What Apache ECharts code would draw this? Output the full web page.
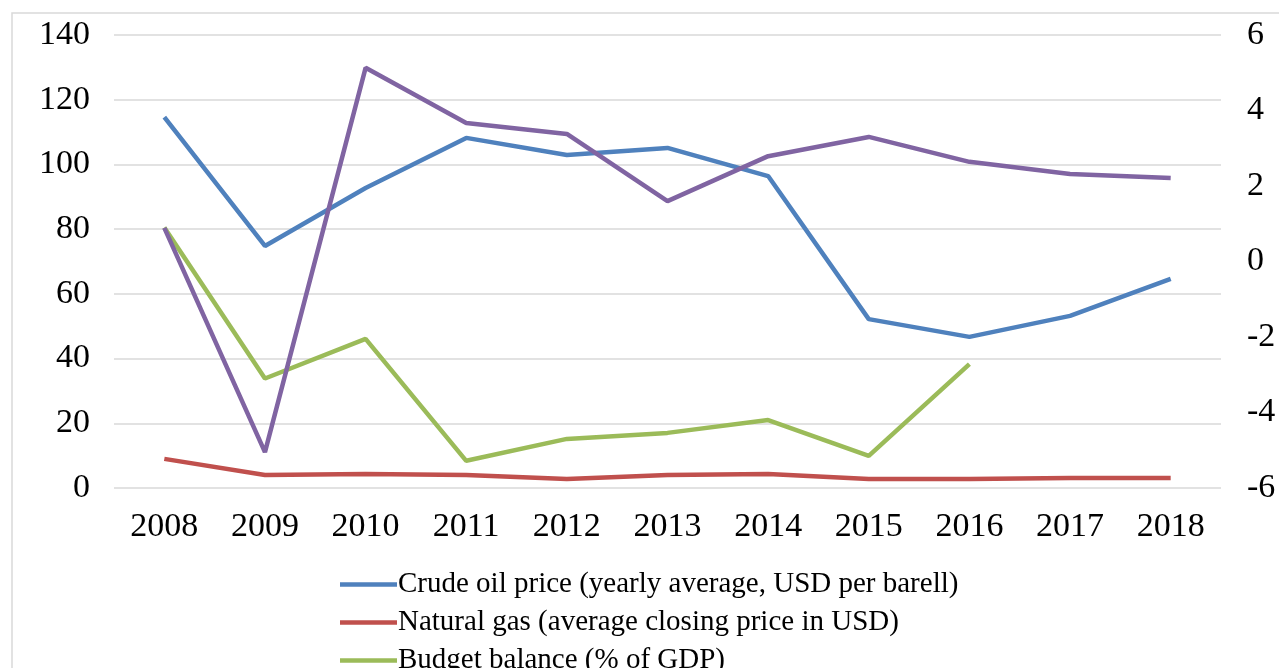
<!DOCTYPE html>
<html>
<head>
<meta charset="utf-8">
<script src="https://cdn.jsdelivr.net/npm/echarts@6/dist/echarts.min.js"></script>
<style>
html, body { margin: 0; padding: 0; background: #fff; }
#main { width: 1279px; height: 668px; }
</style>
</head>
<body>
<div id="main"></div>
<script>
// 数据
var years = ['2008', '2009', '2010', '2011', '2012', '2013', '2014', '2015', '2016', '2017', '2018'];
var crudeOil = [114.6, 74.8, 92.7, 108.2, 102.9, 105.1, 96.4, 52.2, 46.7, 53.2, 64.6];
var naturalGas = [9.0, 4.0, 4.3, 4.0, 2.8, 4.0, 4.3, 2.8, 2.8, 3.1, 3.1];
var budgetBalance = [0.9, -3.1, -2.05, -5.28, -4.7, -4.54, -4.2, -5.15, -2.72];
var gdpGrowth = [0.89, -5.05, 5.13, 3.67, 3.38, 1.6, 2.79, 3.3, 2.64, 2.32, 2.21];

var font = '"Liberation Serif", "Times New Roman", serif';

var myChart = echarts.init(document.getElementById('main'));
myChart.setOption({
    animation: false,
    color: ['#4f81bd', '#c0504d', '#9bbb59', '#8064a2'],
    graphic: [{
        type: 'rect',
        shape: { x: 12, y: 13, width: 1300, height: 700 },
        style: { fill: 'none', stroke: '#d9d9d9', lineWidth: 1.5 },
        silent: true
    }],
    grid: { left: 114, right: 58, top: 35, bottom: 180 },
    legend: {
        orient: 'vertical',
        left: 335,
        top: 565,
        height: 300,
        icon: 'path://M0,0 L57,0 L57,4.5 L0,4.5 Z',
        itemWidth: 57,
        itemHeight: 28,
        itemGap: 9,
        textStyle: { fontFamily: font, fontSize: 29, color: '#000', padding: [0, 0, 0, -4] },
        data: [
            'Crude oil price (yearly average, USD per barell)',
            'Natural gas (average closing price in USD)',
            'Budget balance (% of GDP)',
            'Real GDP growth (%)'
        ]
    },
    xAxis: {
        type: 'category',
        data: years,
        axisLine: { show: false },
        axisTick: { show: false },
        axisLabel: { fontFamily: font, fontSize: 34, color: '#000', margin: 22 }
    },
    yAxis: [{
        type: 'value',
        min: 0, max: 140, interval: 20,
        axisLine: { show: false },
        axisTick: { show: false },
        splitLine: { lineStyle: { color: '#d9d9d9', width: 1.5 } },
        axisLabel: { fontFamily: font, fontSize: 34, color: '#000', margin: 24 }
    }, {
        type: 'value',
        min: -6, max: 6, interval: 2,
        axisLine: { show: false },
        axisTick: { show: false },
        splitLine: { show: false },
        axisLabel: { fontFamily: font, fontSize: 34, color: '#000', margin: 26 }
    }],
    series: [{
        name: 'Crude oil price (yearly average, USD per barell)',
        type: 'line', symbol: 'none', yAxisIndex: 0,
        lineStyle: { width: 4.5 },
        data: crudeOil
    }, {
        name: 'Natural gas (average closing price in USD)',
        type: 'line', symbol: 'none', yAxisIndex: 0,
        lineStyle: { width: 4.5 },
        data: naturalGas
    }, {
        name: 'Budget balance (% of GDP)',
        type: 'line', symbol: 'none', yAxisIndex: 1,
        lineStyle: { width: 4.5 },
        data: budgetBalance
    }, {
        name: 'Real GDP growth (%)',
        type: 'line', symbol: 'none', yAxisIndex: 1,
        lineStyle: { width: 4.5 },
        data: gdpGrowth
    }]
});
</script>
</body>
</html>
